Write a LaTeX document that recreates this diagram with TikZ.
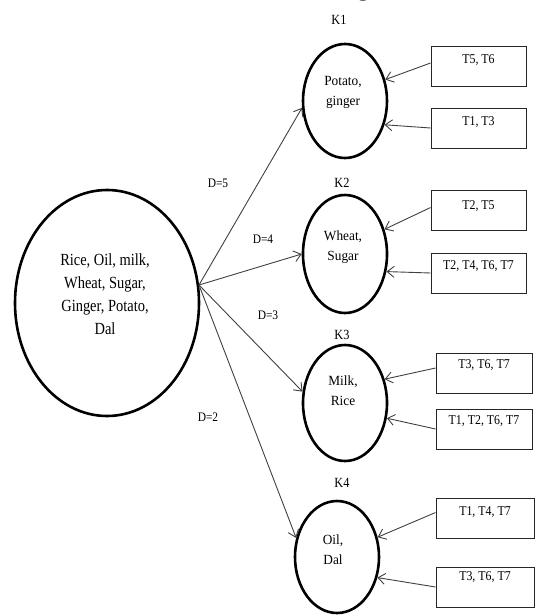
\documentclass[tikz,border=0pt]{standalone}
\usepackage{fontspec}
\setmainfont{Liberation Serif}
\newfontfamily\bigfnt[FakeStretch=0.85]{Liberation Serif}
\newfontfamily\narfnt[FakeStretch=0.88]{Liberation Serif}
\newfontfamily\kfnt[FakeStretch=0.95]{Liberation Serif}
\usetikzlibrary{shapes.geometric,arrows.meta,calc}
\begin{document}
\begin{tikzpicture}[x=1pt,y=-1pt,
  ell/.style={draw=black, line width=2.6pt, ellipse, inner sep=0pt},
  tbox/.style={draw=black!85, line width=0.9pt, rectangle, minimum height=40pt, inner sep=0pt},
  conn/.style={draw=black!75, line width=0.9pt, -{Straight Barb[length=7pt,width=11pt]}},
  btxt/.style={font=\narfnt\fontsize{13.5}{15}\selectfont, inner sep=0pt},
  ktxt/.style={font=\kfnt\fontsize{14}{20}\selectfont, align=center, inner sep=0pt},
  klbl/.style={font=\narfnt\fontsize{14}{16}\selectfont, inner sep=0pt},
  dlbl/.style={font=\narfnt\fontsize{13}{15}\selectfont, inner sep=0pt}]
\useasboundingbox (0,0) rectangle (535,615);
\clip (0,0) rectangle (535,615);

% cut-off caption line at the top
\node[font=\fontsize{26}{30}\selectfont, anchor=base east, inner sep=0pt] (cap) at (438,-4) {e entire dataset is shown in the figure. 3.};

% source set
\node[ell, minimum width=184pt, minimum height=226pt] (S) at (107,303) {};
\node[font=\bigfnt\fontsize{17}{23}\selectfont, align=center, inner sep=0pt] (St) at (105,294) {Rice, Oil, milk,\\ Wheat, Sugar,\\ Ginger, Potato,\\ Dal};
\coordinate (fan) at (199,285);

% clusters
\node[ell, minimum width=84pt, minimum height=114pt] (k1) at (345,101) {};
\node[ktxt] (k1t) at (343,92) {Potato,\\ ginger};
\node[klbl] (k1l) at (339,20) {K1};

\node[ell, minimum width=84pt, minimum height=118pt] (k2) at (345,254) {};
\node[ktxt] (k2t) at (343,247) {Wheat,\\ Sugar};
\node[klbl] (k2l) at (342,183) {K2};

\node[ell, minimum width=84pt, minimum height=116pt] (k3) at (345,403) {};
\node[ktxt] (k3t) at (343,391) {Milk,\\ Rice};
\node[klbl] (k3l) at (342,335) {K3};

\node[ell, minimum width=84pt, minimum height=112pt] (k4) at (337,557) {};
\node[ktxt] (k4t) at (333,550) {Oil,\\ Dal};
\node[klbl] (k4l) at (342,483) {K4};

% transaction boxes
\node[tbox, minimum width=95pt] (b11) at (478.5,66) {};
\node[btxt] (b11t) at ($(b11.north)+(0,15)$) {T5, T6};
\node[tbox, minimum width=95pt] (b12) at (478.5,128) {};
\node[btxt] (b12t) at ($(b12.north)+(0,15)$) {T1, T3};
\node[tbox, minimum width=95pt] (b21) at (478.5,210.5) {};
\node[btxt] (b21t) at ($(b21.north)+(0,16)$) {T2, T5};
\node[tbox, minimum width=95pt] (b22) at (478.5,273) {};
\node[btxt] (b22t) at ($(b22.north)+(0,14)$) {T2, T4, T6, T7};
\node[tbox, minimum width=96pt] (b31) at (484,373) {};
\node[btxt] (b31t) at ($(b31.north)+(0,13)$) {T3, T6, T7};
\node[tbox, minimum width=96pt] (b32) at (484,429) {};
\node[btxt] (b32t) at ($(b32.north)+(0,13)$) {T1, T2, T6, T7};
\node[tbox, minimum width=98pt] (b41) at (485,518.5) {};
\node[btxt] (b41t) at ($(b41.north)+(0,14)$) {T1, T4, T7};
\node[tbox, minimum width=98pt] (b42) at (485,587) {};
\node[btxt] (b42t) at ($(b42.north)+(0,11)$) {T3, T6, T7};

% distance labels
\node[dlbl] (d5) at (218,183) {D=5};
\node[dlbl] (d4) at (263,239) {D=4};
\node[dlbl] (d3) at (268,315) {D=3};
\node[dlbl] (d2) at (208,417) {D=2};

% connectors from the source set
\draw[conn] (fan) -- (k1.189);
\draw[conn] (fan) -- (k2.west);
\draw[conn] (fan) -- (k3.165);
\draw[conn] (fan) -- (k4.155);

% connectors from transaction boxes
\draw[conn] ([yshift=3pt]b11.west) -- (k1.28);
\draw[conn] (b12.west) -- (k1.-31);
\draw[conn] ([yshift=3pt]b21.west) -- (k2.32);
\draw[conn] (b22.west) -- (k2.-23);
\draw[conn] ([yshift=5pt]b31.west) -- (k3.31);
\draw[conn] (b32.west) -- (k3.-20);
\draw[conn] ([yshift=6pt]b41.west) -- (k4.26);
\draw[conn] (b42.west) -- (k4.-27);
\end{tikzpicture}
\end{document}
